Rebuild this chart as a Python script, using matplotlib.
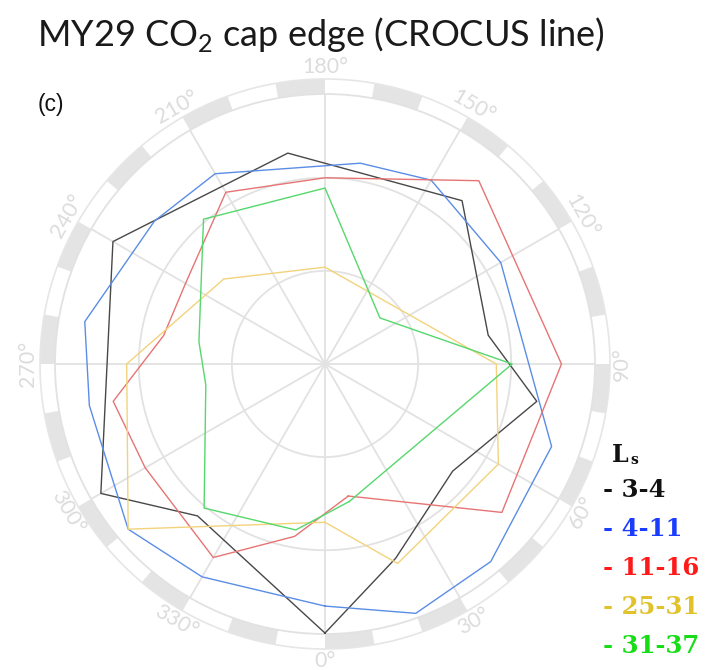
import numpy as np
import matplotlib
matplotlib.use("Agg")
import matplotlib.pyplot as plt

# ---- data (angle in degrees, radius in degrees from pole) ----
black_theta = [0, 20, 50, 80, 100, 140, 190, 240, 300, 320]
black_r = [28.9, 22.2, 17.9, 23.1, 17.8, 22.9, 23.0, 26.3, 27.8, 21.3]

blue_theta = [0, 20, 40, 70, 120, 150, 170, 210, 230, 260, 280, 310, 330]
blue_r = [26.0, 28.5, 27.7, 25.9, 21.8, 22.8, 21.9, 23.6, 23.9, 26.2, 25.7, 27.6, 26.4]

red_theta = [10, 50, 90, 140, 180, 210, 240, 260, 280, 300, 330, 350]
red_r = [14.4, 24.8, 25.4, 25.7, 20.0, 21.3, 17.3, 17.6, 23.1, 22.3, 24.0, 18.8]

yellow_theta = [0, 20, 60, 90, 180, 230, 270, 310]
yellow_r = [17.0, 22.8, 21.5, 18.4, 10.4, 14.2, 21.3, 27.6]

green_theta = [10, 90, 130, 180, 220, 260, 280, 320, 350]
green_r = [15.0, 20.1, 7.7, 18.9, 20.3, 13.75, 13.0, 20.2, 18.1]

legend_labels = ["- 3-4", "- 4-11", "- 11-16", "- 25-31", "- 31-37"]
line_colors = ["#484848", "#5b8de6", "#e77474", "#f2d37c", "#55d86c"]
text_colors = ["#111111", "#1a3cff", "#ff1a1a", "#e2c22a", "#16dd16"]
tick_angles = list(range(0, 360, 30))

RMAX = 29.0

fig = plt.figure(figsize=(7.06, 6.70), dpi=100)
ax = fig.add_axes([55 / 706, (670 - 634) / 670, 540 / 706, 540 / 670], projection="polar")
ax.set_theta_zero_location("S")
ax.set_theta_direction(1)
ax.set_ylim(0, RMAX)
ax.set_rgrids([10, 20], labels=["", ""])
ax.set_thetagrids(tick_angles, labels=[""] * len(tick_angles))
ax.grid(True, color="#e2e2e2", lw=1.3)
ax.spines["polar"].set_color("#e2e2e2")
ax.spines["polar"].set_linewidth(1.3)
ax.tick_params(length=0)

# segmented outer band
band_in, band_out = RMAX, RMAX * 285 / 270
seg_centers = np.deg2rad(np.arange(5, 360, 20))
ax.bar(seg_centers, band_out - band_in, width=np.deg2rad(10), bottom=band_in,
       color="#e4e4e4", edgecolor="none", clip_on=False, zorder=1)
tt = np.linspace(0, 2 * np.pi, 500)
ax.plot(tt, np.full_like(tt, band_out), color="#e6e6e6", lw=1.2, clip_on=False)

# angle labels
for a in tick_angles:
    rot = a % 180
    if rot > 90:
        rot -= 180
    ax.text(np.deg2rad(a), RMAX * 297 / 270, f"{a}°", rotation=rot,
            rotation_mode="anchor", ha="center", va="center",
            fontsize=15.5, color="#dcdcdc", family="Lato", clip_on=False)

series = [(black_theta, black_r), (blue_theta, blue_r), (red_theta, red_r),
          (yellow_theta, yellow_r), (green_theta, green_r)]
for (th, r), c in zip(series, line_colors):
    th_c = np.deg2rad(np.array(th + th[:1], dtype=float))
    r_c = np.array(r + r[:1], dtype=float)
    ax.plot(th_c, r_c, color=c, lw=1.0, zorder=3)

# title and panel label
plt.rcParams["mathtext.fontset"] = "custom"
plt.rcParams["mathtext.rm"] = "Lato"
fig.text(37 / 706, 1 - 35 / 670, r"MY29 CO$_\mathregular{2}$ cap edge (CROCUS line)",
         fontsize=26, family="Lato", va="center", ha="left", color="#1a1a1a")
fig.text(38 / 706, 1 - 105 / 670, "(c)", fontsize=16.5, family="Liberation Sans",
         va="center", ha="left", color="#111111")

# legend text
fig.text(612 / 706, 1 - 455 / 670, "L", fontsize=17, family="DejaVu Serif",
         weight="bold", va="center", ha="left", color="#111111")
fig.text(630 / 706, 1 - 460 / 670, "s", fontsize=10, family="DejaVu Serif",
         weight="bold", va="center", ha="left", color="#111111")
ys = [490, 529, 568, 607, 646]
for lab, c, y in zip(legend_labels, text_colors, ys):
    fig.text(603 / 706, 1 - y / 670, lab, fontsize=17.5, family="DejaVu Serif",
             weight="bold", va="center", ha="left", color=c)

fig.savefig("out.png", dpi=100)
